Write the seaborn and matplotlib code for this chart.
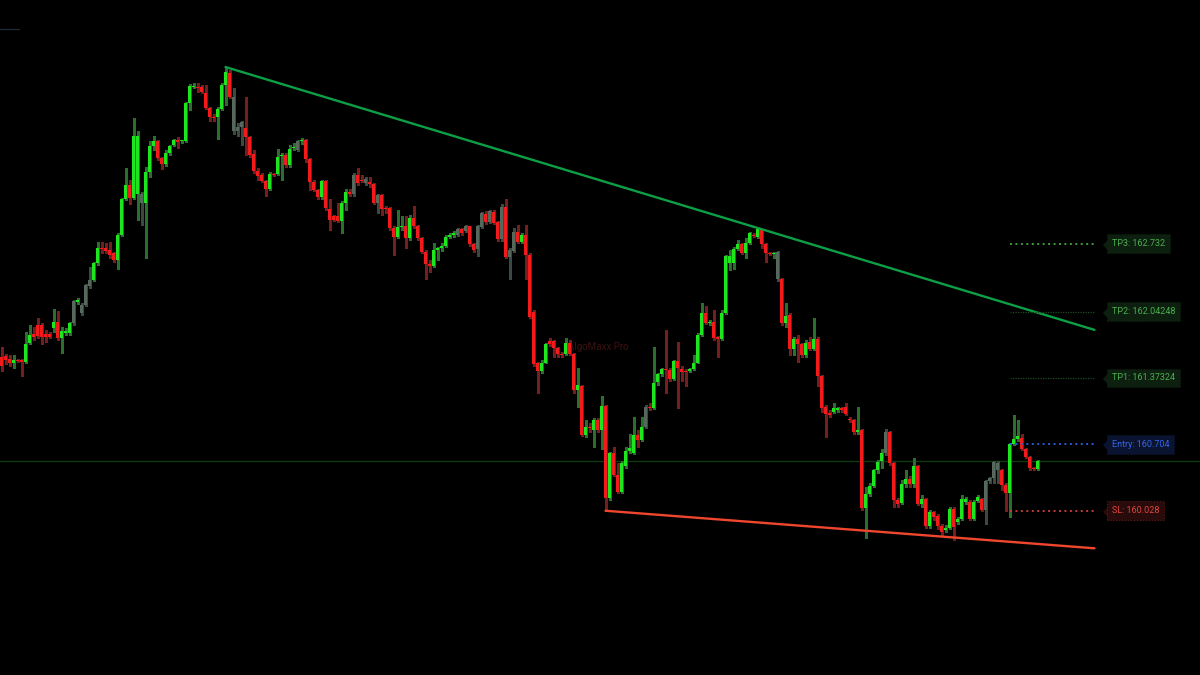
import seaborn as sns
import matplotlib.pyplot as plt
import numpy as np
import pandas as pd

# candle data (price), one candle per slot
opens = [161.59, 161.60, 161.57, 161.52, 161.56, 161.56, 161.54, 161.73, 161.82, 161.91,
         161.91, 161.82, 161.82, 161.88, 161.94, 161.78, 161.83, 161.83, 161.93, 162.14,
         162.11, 162.11, 162.30, 162.36, 162.54, 162.69, 162.69, 162.67, 162.64, 162.57,
         162.82, 163.18, 163.33, 163.19, 163.23, 163.23, 163.14, 163.46, 163.72, 163.77,
         163.60, 163.54, 163.65, 163.73, 163.78, 163.77, 163.77, 164.16, 164.32, 164.32,
         164.32, 164.26, 164.11, 164.01, 164.01, 164.10, 164.34, 164.46, 164.22, 163.87,
         163.91, 163.90, 163.81, 163.64, 163.47, 163.43, 163.37, 163.29, 163.44, 163.44,
         163.62, 163.63, 163.53, 163.70, 163.68, 163.77, 163.78, 163.59, 163.36, 163.28,
         163.20, 163.37, 163.08, 163.01, 163.01, 162.96, 163.14, 163.26, 163.23, 163.43,
         163.38, 163.35, 163.36, 163.34, 163.14, 163.22, 163.09, 163.09, 162.89, 162.80,
         162.90, 162.91, 162.79, 162.99, 162.91, 162.79, 162.65, 162.53, 162.51, 162.67,
         162.69, 162.71, 162.80, 162.82, 162.82, 162.88, 162.86, 162.91, 162.73, 162.68,
         162.90, 163.03, 162.95, 163.05, 162.95, 162.78, 163.10, 162.60, 162.66, 162.85,
         162.75, 162.82, 162.62, 162.04, 161.52, 161.44, 161.53, 161.75, 161.75, 161.68,
         161.62, 161.62, 161.73, 161.62, 161.25, 161.29, 160.80, 160.88, 160.85, 160.95,
         160.85, 161.09, 160.16, 160.61, 160.39, 160.22, 160.48, 160.63, 160.61, 160.80,
         160.75, 160.88, 161.08, 161.07, 161.33, 161.41, 161.46, 161.45, 161.36, 161.55,
         161.46, 161.44, 161.44, 161.46, 161.53, 161.81, 162.03, 161.93, 161.94, 161.79,
         161.77, 162.03, 162.54, 162.54, 162.68, 162.73, 162.64, 162.74, 162.82, 162.80,
         162.87, 162.73, 162.64, 162.63, 162.65, 162.37, 161.93, 162.01, 161.67, 161.77,
         161.72, 161.61, 161.74, 161.67, 161.77, 161.39, 161.08, 161.02, 161.03, 161.05,
         161.07, 161.08, 160.96, 160.95, 160.83, 160.85, 160.06, 160.20, 160.28, 160.44,
         160.53, 160.61, 160.83, 160.51, 160.14, 160.11, 160.30, 160.35, 160.30, 160.48,
         160.10, 160.15, 159.88, 160.02, 159.98, 159.88, 159.84, 159.86, 160.05, 159.92,
         159.95, 160.12, 160.12, 159.95, 160.13, 160.15, 160.04, 160.33, 160.36, 160.51,
         160.44, 160.29, 160.21, 160.71, 160.76, 160.77, 160.65, 160.57, 160.46, 160.45]

highs = [161.69, 161.62, 161.61, 161.61, 161.57, 161.57, 161.84, 161.91, 161.89, 161.98,
         161.93, 161.86, 161.84, 162.07, 162.05, 161.89, 161.88, 161.94, 162.16, 162.18,
         162.13, 162.32, 162.50, 162.55, 162.75, 162.75, 162.74, 162.75, 162.65, 162.84,
         163.19, 163.50, 163.38, 164.00, 163.87, 163.26, 163.51, 163.77, 163.82, 163.78,
         163.61, 163.68, 163.73, 163.79, 163.81, 163.78, 164.17, 164.35, 164.36, 164.36,
         164.34, 164.34, 164.12, 164.04, 164.12, 164.36, 164.52, 164.49, 164.31, 163.95,
         163.97, 164.22, 163.82, 163.68, 163.50, 163.45, 163.38, 163.46, 163.45, 163.69,
         163.65, 163.65, 163.73, 163.75, 163.78, 163.80, 163.79, 163.60, 163.38, 163.29,
         163.38, 163.38, 163.18, 163.02, 163.14, 163.16, 163.29, 163.29, 163.45, 163.50,
         163.43, 163.41, 163.41, 163.35, 163.23, 163.23, 163.11, 163.10, 162.91, 163.07,
         163.01, 163.01, 163.02, 163.11, 162.92, 162.80, 162.67, 162.57, 162.74, 162.70,
         162.74, 162.82, 162.84, 162.86, 162.89, 162.89, 162.92, 162.91, 162.74, 162.92,
         163.05, 163.06, 163.07, 163.07, 162.96, 163.13, 163.18, 162.69, 162.89, 162.92,
         162.84, 162.92, 162.64, 162.06, 161.54, 161.56, 161.73, 161.78, 161.76, 161.69,
         161.64, 161.78, 161.76, 161.63, 161.47, 161.30, 160.95, 160.92, 160.97, 160.97,
         161.19, 161.10, 160.62, 160.68, 160.51, 160.53, 160.68, 160.81, 160.98, 160.85,
         160.98, 161.10, 161.12, 161.69, 161.42, 161.47, 161.86, 161.47, 161.56, 161.74,
         161.49, 161.46, 161.47, 161.61, 161.83, 162.13, 162.10, 161.96, 162.06, 161.80,
         162.06, 162.62, 162.67, 162.70, 162.77, 162.74, 162.79, 162.85, 162.84, 162.89,
         162.88, 162.74, 162.65, 162.65, 162.66, 162.38, 162.13, 162.03, 161.79, 161.81,
         161.73, 161.76, 161.79, 161.98, 161.79, 161.40, 161.10, 161.05, 161.12, 161.08,
         161.08, 161.12, 160.98, 160.96, 161.08, 160.86, 160.27, 160.31, 160.45, 160.54,
         160.65, 160.86, 160.84, 160.52, 160.16, 160.34, 160.44, 160.38, 160.56, 160.49,
         160.19, 160.16, 160.04, 160.03, 160.00, 159.90, 159.89, 160.07, 160.07, 159.97,
         160.19, 160.17, 160.14, 160.14, 160.19, 160.16, 160.34, 160.37, 160.53, 160.53,
         160.45, 160.31, 160.72, 161.00, 160.95, 160.81, 160.66, 160.58, 160.47, 160.54]

lows = [161.44, 161.51, 161.49, 161.47, 161.54, 161.39, 161.53, 161.72, 161.76, 161.78,
        161.72, 161.74, 161.78, 161.84, 161.76, 161.63, 161.81, 161.81, 161.91, 162.12,
        162.01, 162.10, 162.28, 162.35, 162.52, 162.64, 162.64, 162.59, 162.55, 162.48,
        162.81, 163.17, 163.13, 163.18, 162.97, 162.92, 162.59, 163.41, 163.68, 163.58,
        163.49, 163.52, 163.63, 163.72, 163.70, 163.75, 163.76, 164.09, 164.31, 164.27,
        164.26, 164.10, 163.97, 163.97, 163.79, 164.09, 164.14, 164.21, 163.84, 163.82,
        163.73, 163.63, 163.61, 163.45, 163.38, 163.36, 163.21, 163.28, 163.42, 163.43,
        163.38, 163.51, 163.51, 163.68, 163.67, 163.74, 163.56, 163.28, 163.27, 163.18,
        163.18, 163.07, 162.87, 162.96, 162.95, 162.84, 163.07, 163.21, 163.21, 163.33,
        163.36, 163.33, 163.31, 163.13, 163.04, 163.02, 163.04, 162.87, 162.62, 162.79,
        162.87, 162.69, 162.77, 162.89, 162.77, 162.64, 162.37, 162.45, 162.50, 162.57,
        162.66, 162.70, 162.79, 162.80, 162.81, 162.82, 162.85, 162.71, 162.65, 162.61,
        162.89, 162.93, 162.94, 162.93, 162.76, 162.76, 162.59, 162.37, 162.65, 162.74,
        162.74, 162.37, 161.98, 161.49, 161.22, 161.42, 161.52, 161.70, 161.59, 161.59,
        161.59, 161.61, 161.61, 161.22, 161.08, 160.79, 160.78, 160.83, 160.67, 160.83,
        160.65, 160.03, 160.14, 160.38, 160.21, 160.21, 160.46, 160.61, 160.60, 160.68,
        160.74, 160.87, 161.05, 161.06, 161.30, 161.39, 161.22, 161.34, 161.35, 161.07,
        161.34, 161.29, 161.43, 161.45, 161.52, 161.80, 161.92, 161.91, 161.76, 161.59,
        161.76, 162.02, 162.47, 162.48, 162.67, 162.63, 162.59, 162.73, 162.80, 162.79,
        162.69, 162.55, 162.62, 162.59, 162.35, 161.91, 161.89, 161.61, 161.61, 161.54,
        161.59, 161.59, 161.66, 161.66, 161.29, 161.03, 160.78, 160.98, 161.02, 161.03,
        161.03, 161.00, 160.93, 160.81, 160.81, 160.04, 159.75, 160.18, 160.27, 160.41,
        160.46, 160.59, 160.49, 160.07, 160.07, 160.10, 160.27, 160.27, 160.27, 160.09,
        160.07, 159.86, 159.86, 159.94, 159.85, 159.78, 159.82, 159.85, 159.73, 159.90,
        159.94, 160.10, 159.94, 159.94, 160.12, 160.03, 159.90, 160.31, 160.31, 160.31,
        160.24, 160.03, 159.97, 160.70, 160.74, 160.64, 160.56, 160.44, 160.44, 160.44]

closes = [161.49, 161.56, 161.52, 161.56, 161.55, 161.54, 161.72, 161.81, 161.79, 161.80,
          161.79, 161.79, 161.79, 161.94, 161.78, 161.85, 161.85, 161.93, 162.15, 162.16,
          162.03, 162.31, 162.36, 162.54, 162.69, 162.68, 162.66, 162.62, 162.57, 162.82,
          163.18, 163.33, 163.19, 163.82, 163.82, 163.14, 163.46, 163.72, 163.77, 163.60,
          163.54, 163.65, 163.72, 163.78, 163.76, 163.78, 164.16, 164.33, 164.33, 164.31,
          164.27, 164.11, 164.01, 164.00, 164.10, 164.34, 164.47, 164.22, 163.87, 163.91,
          163.96, 163.81, 163.63, 163.47, 163.42, 163.37, 163.29, 163.44, 163.43, 163.61,
          163.63, 163.53, 163.69, 163.71, 163.77, 163.78, 163.59, 163.36, 163.28, 163.20,
          163.37, 163.09, 162.97, 162.97, 162.96, 163.14, 163.26, 163.23, 163.43, 163.35,
          163.37, 163.39, 163.34, 163.14, 163.22, 163.08, 163.08, 162.89, 162.80, 162.90,
          162.91, 162.79, 162.99, 162.91, 162.79, 162.65, 162.53, 162.51, 162.67, 162.69,
          162.71, 162.80, 162.82, 162.84, 162.88, 162.84, 162.91, 162.73, 162.67, 162.91,
          163.04, 162.95, 163.06, 162.94, 162.78, 163.10, 162.60, 162.67, 162.85, 162.75,
          162.82, 162.62, 161.99, 161.51, 161.44, 161.53, 161.72, 161.72, 161.68, 161.62,
          161.61, 161.73, 161.62, 161.25, 161.30, 160.80, 160.88, 160.87, 160.95, 160.85,
          161.09, 160.16, 160.61, 160.39, 160.22, 160.51, 160.63, 160.66, 160.80, 160.75,
          160.88, 161.08, 161.07, 161.32, 161.41, 161.46, 161.45, 161.36, 161.55, 161.47,
          161.43, 161.43, 161.46, 161.53, 161.81, 162.03, 161.93, 161.94, 161.78, 161.77,
          162.03, 162.61, 162.61, 162.68, 162.73, 162.64, 162.74, 162.84, 162.81, 162.88,
          162.73, 162.64, 162.63, 162.64, 162.37, 161.93, 162.00, 161.67, 161.77, 161.72,
          161.61, 161.73, 161.67, 161.77, 161.39, 161.07, 161.01, 161.00, 161.07, 161.07,
          161.05, 161.01, 160.95, 160.83, 160.85, 160.06, 160.20, 160.28, 160.44, 160.52,
          160.61, 160.83, 160.51, 160.14, 160.10, 160.30, 160.35, 160.30, 160.48, 160.10,
          160.15, 159.88, 160.02, 159.97, 159.88, 159.82, 159.86, 160.05, 159.87, 159.95,
          160.15, 160.15, 159.95, 160.12, 160.17, 160.04, 160.33, 160.36, 160.52, 160.44,
          160.29, 160.21, 160.71, 160.76, 160.79, 160.65, 160.57, 160.46, 160.45, 160.53]

# low-volume bars drawn grey
muted = [18, 20, 21, 22, 35, 58, 59, 60, 74, 88, 91, 94, 114, 116, 119, 120, 122,
         125, 127, 128, 161, 194, 221, 246, 247, 248, 249]

# trade levels
level_names = ['TP3', 'TP2', 'TP1', 'Entry', 'SL']
level_values = [162.732, 162.04248, 161.37324, 160.704, 160.028]

# trend lines (candle index, price)
top_line_x = [56, 273.25]
top_line_y = [164.52, 161.86]
bottom_line_x = [151, 273.25]
bottom_line_y = [160.03, 159.65]

sns.set_theme(style="dark", rc={"axes.facecolor": "#000000", "figure.facecolor": "#000000"})
plt.rcParams['font.family'] = ['Roboto', 'DejaVu Sans']

df = pd.DataFrame({'o': opens, 'h': highs, 'l': lows, 'c': closes})
df['i'] = np.arange(len(df))
up = (df['c'] >= df['o']).to_numpy()
body_col = np.where(up, '#1ee61e', '#f21a1a').astype(object)
wick_col = np.where(up, '#2c6e2c', '#761e1e').astype(object)
body_col[muted] = '#56675c'
wick_col[muted] = '#3b4a40'
bottom = np.minimum(df['o'], df['c'])
height = (df['c'] - df['o']).abs().clip(lower=0.009)

fig = plt.figure(figsize=(12, 6.75), dpi=100)
ax = fig.add_axes([0, 0, 1, 1])
ax.set_facecolor('#000000')

# last price line + watermark
ax.axhline(closes[-1], color='#0e3a10', lw=1, zorder=1)
ax.text(141.5, 161.69, 'AlgoMaxx Pro', color='#3f1111', fontsize=7, va='center', zorder=1)

ax.vlines(df['i'], df['l'], df['h'], colors=list(wick_col), linewidth=1,
          antialiased=False, zorder=2)
ax.bar(df['i'], height, bottom=bottom, width=0.75, color=list(body_col), linewidth=0,
       antialiased=False, zorder=3)

trend = pd.DataFrame({'x': top_line_x + bottom_line_x,
                      'y': top_line_y + bottom_line_y,
                      'line': ['top', 'top', 'bottom', 'bottom']})
sns.lineplot(data=trend, x='x', y='y', hue='line', sort=False, legend=False,
             palette={'top': '#0c9f46', 'bottom': '#f0462e'}, linewidth=1.7, ax=ax, zorder=4)

styles = {
    'TP3': ('#3f9d3f', 1.4, (0, (1, 1.8)), '#4caf50', '#0d1f0f', '#0d1f0f'),
    'TP2': ('#1f4a22', 0.9, (0, (1, 1)), '#4caf50', '#0d1f0f', '#0d1f0f'),
    'TP1': ('#1f4a22', 0.9, (0, (1, 1)), '#4caf50', '#0d1f0f', '#0d1f0f'),
    'Entry': ('#2a5bd7', 1.4, (0, (1, 1.8)), '#3566e6', '#0a1430', '#0a1430'),
    'SL': ('#c83a3a', 1.4, (0, (1, 1.8)), '#e0453f', '#2a0b0b', '#5a1818'),
}
tag = [(0, 0), (1, -1.1), (1, 1.1)]
for name, val in zip(level_names, level_values):
    lc, lw, ls, tc, bg, ec = styles[name]
    ax.plot([252, 273.25], [val, val], color=lc, lw=lw, linestyle=ls, zorder=4)
    ax.plot(275.25, val, marker=tag, ms=10, color=bg, mec=bg, zorder=5)
    ax.text(277.6, val, f'{name}: {val}', color=tc, fontsize=6.5, ha='left', va='center',
            zorder=6, bbox=dict(boxstyle='square,pad=0.55', fc=bg, ec=ec, lw=0.8,
                                linestyle=':'))

# small stray mark top-left
ax.plot([0, 0.016], [0.957, 0.957], transform=ax.transAxes, color='#1c2833', lw=1)

# candle i centred at pixel 4i+1.5 so 3px bodies land on whole pixels
ax.set_xlim(-0.375, 299.625)
ax.set_ylim(158.368, 165.198)
ax.set_axis_off()
fig.savefig('out.png', dpi=100, facecolor='#000000')
